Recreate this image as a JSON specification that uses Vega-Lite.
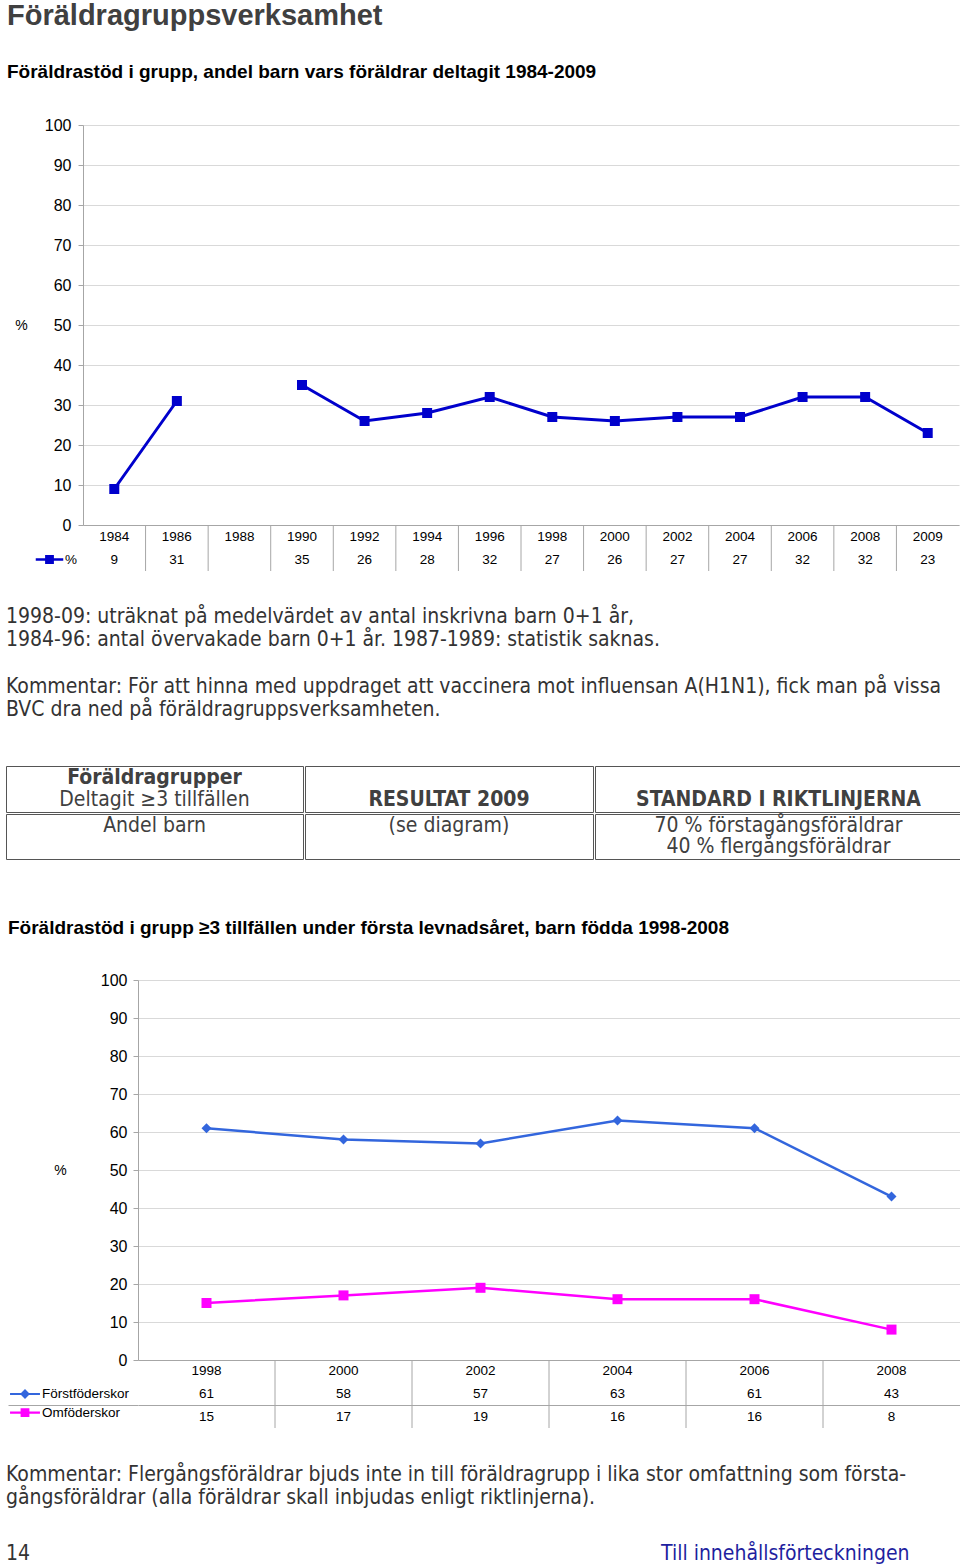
{
  "$schema": "https://vega.github.io/schema/vega-lite/v6.json",
  "background": "white",
  "padding": {"left": 5, "top": 2, "right": 0, "bottom": 0},
  "config": {
    "view": {"stroke": null},
    "font": "Liberation Sans",
    "axis": {"labelFont": "Liberation Sans", "titleFont": "Liberation Sans"},
    "title": {"offset": 0}
  },
  "datasets": {
    "t1": [
      {"year": "1984", "v": 9}, {"year": "1986", "v": 31}, {"year": "1988", "v": null},
      {"year": "1990", "v": 35}, {"year": "1992", "v": 26}, {"year": "1994", "v": 28},
      {"year": "1996", "v": 32}, {"year": "1998", "v": 27}, {"year": "2000", "v": 26},
      {"year": "2002", "v": 27}, {"year": "2004", "v": 27}, {"year": "2006", "v": 32},
      {"year": "2008", "v": 32}, {"year": "2009", "v": 23}
    ],
    "t2": [
      {"year": "1998", "series": "Förstföderskor", "v": 61},
      {"year": "2000", "series": "Förstföderskor", "v": 58},
      {"year": "2002", "series": "Förstföderskor", "v": 57},
      {"year": "2004", "series": "Förstföderskor", "v": 63},
      {"year": "2006", "series": "Förstföderskor", "v": 61},
      {"year": "2008", "series": "Förstföderskor", "v": 43},
      {"year": "1998", "series": "Omföderskor", "v": 15},
      {"year": "2000", "series": "Omföderskor", "v": 17},
      {"year": "2002", "series": "Omföderskor", "v": 19},
      {"year": "2004", "series": "Omföderskor", "v": 16},
      {"year": "2006", "series": "Omföderskor", "v": 16},
      {"year": "2008", "series": "Omföderskor", "v": 8}
    ]
  },
  "concat": [
    {
      "hconcat": [
        {"width": 1, "height": 1, "data": {"values": []}, "mark": "text", "encoding": {}},
        {
          "concat": [
            {
              "width": 876, "height": 400,
              "data": {"name": "t1"},
              "title": {
                "text": "Föräldragruppsverksamhet",
                "subtitle": "Föräldrastöd i grupp, andel barn vars föräldrar deltagit 1984-2009",
                "anchor": "start", "frame": "group", "dx": -76, "offset": 35,
                "font": "Liberation Sans", "fontSize": 29, "fontWeight": "bold", "color": "#404040",
                "subtitleFont": "Liberation Sans", "subtitleFontSize": 19, "subtitleFontWeight": "bold",
                "subtitleColor": "#000000", "subtitlePadding": 32
              },
              "encoding": {
                "x": {
                  "field": "year", "type": "ordinal",
                  "scale": {"type": "point", "padding": 0.5, "domain": ["1984","1986","1988","1990","1992","1994","1996","1998","2000","2002","2004","2006","2008","2009"]},
                  "axis": {"labels": false, "ticks": false, "grid": false, "title": null, "domainColor": "#a6a6a6"}
                },
                "y": {
                  "field": "v", "type": "quantitative",
                  "scale": {"domain": [0, 100]},
                  "axis": {
                    "tickCount": 10, "grid": true, "gridColor": "#d9d9d9", "domainColor": "#a6a6a6",
                    "tickColor": "#a6a6a6", "tickSize": 5, "labelPadding": 7, "labelFontSize": 16,
                    "labelColor": "#000000", "title": "%", "titleAngle": 0, "titleX": -62, "titleY": 200,
                    "titleFontSize": 14, "titleFontWeight": "normal", "titleColor": "#000000",
                    "titleAlign": "center", "titleBaseline": "middle"
                  }
                }
              },
              "layer": [
                {"mark": {"type": "line", "color": "#0000cc", "strokeWidth": 3, "invalid": "break-paths-filter-domains"}},
                {"mark": {"type": "square", "color": "#0000cc", "size": 100, "filled": true, "opacity": 1}}
              ]
            },
            {
              "width": 876, "height": 46,
              "data": {"name": "t1"},
              "layer": [
                {
                  "transform": [{"filter": "datum.year != '1984'"}],
                  "mark": {"type": "rule", "color": "#a6a6a6", "strokeWidth": 1},
                  "encoding": {
                    "x": {"field": "year", "type": "ordinal", "bandPosition": 0,
                      "scale": {"type": "band", "paddingInner": 0, "paddingOuter": 0, "domain": ["1984","1986","1988","1990","1992","1994","1996","1998","2000","2002","2004","2006","2008","2009"]},
                      "axis": null}
                  }
                },
                {
                  "mark": {"type": "text", "font": "Liberation Sans", "fontSize": 13.5, "color": "#000000"},
                  "encoding": {
                    "x": {"field": "year", "type": "ordinal", "bandPosition": 0.5},
                    "y": {"datum": "Year", "type": "nominal", "scale": {"type": "point", "padding": 0.5, "domain": ["Year", "Value"]}, "axis": null},
                    "text": {"field": "year"}
                  }
                },
                {
                  "transform": [{"filter": "isValid(datum.v)"}],
                  "mark": {"type": "text", "font": "Liberation Sans", "fontSize": 13.5, "color": "#000000"},
                  "encoding": {
                    "x": {"field": "year", "type": "ordinal", "bandPosition": 0.5},
                    "y": {"datum": "Value", "type": "nominal"},
                    "text": {"field": "v", "type": "quantitative"}
                  }
                },
                {
                  "data": {"values": [{"s": "%"}]},
                  "mark": {"type": "point", "opacity": 0, "filled": true},
                  "encoding": {
                    "color": {
                      "field": "s", "type": "nominal",
                      "scale": {"domain": ["%"], "range": ["#0000cc"]},
                      "legend": {
                        "title": null, "orient": "none", "legendX": -44.5, "legendY": 23.5,
                        "symbolType": "M-1.25,-0.11H1.25V0.11H-1.25Z M-0.4,-0.4H0.4V0.4H-0.4Z",
                        "symbolSize": 484, "symbolOpacity": 1, "symbolStrokeWidth": 0,
                        "labelFont": "Liberation Sans", "labelFontSize": 13.5, "labelColor": "#000000",
                        "labelOffset": 4.5, "rowPadding": 0, "padding": 0
                      }
                    }
                  }
                }
              ]
            }
          ],
          "columns": 1,
          "spacing": 0,
          "bounds": "flush",
          "resolve": {"scale": {"color": "independent", "x": "independent", "y": "independent"}, "legend": {"color": "independent"}}
        }
      ],
      "spacing": 0
    },
    {
      "width": 953, "height": 193,
      "data": {"values": [
        {"line": 1, "t": "1998-09: uträknat på medelvärdet av antal inskrivna barn 0+1 år,"},
        {"line": 2, "t": "1984-96: antal övervakade barn 0+1 år. 1987-1989: statistik saknas."},
        {"line": 4, "t": "Kommentar: För att hinna med uppdraget att vaccinera mot influensan A(H1N1), fick man på vissa"},
        {"line": 5, "t": "BVC dra ned på föräldragruppsverksamheten."}
      ]},
      "mark": {"type": "text", "align": "left", "baseline": "middle", "font": "DejaVu Sans Condensed", "fontSize": 21, "color": "#333333"},
      "encoding": {
        "x": {"datum": 0, "type": "quantitative", "scale": {"domain": [0, 1]}, "axis": null},
        "y": {"field": "line", "type": "quantitative", "scale": {"domain": [-0.931, 7.352], "reverse": true, "nice": false, "zero": false}, "axis": null},
        "text": {"field": "t"}
      }
    },
    {
      "concat": [
        {
          "width": 297, "height": 46,
          "view": {"stroke": "#555555", "strokeWidth": 1},
          "layer": [
            {
              "data": {"values": [{"slot": "1", "t": "Föräldragrupper"}]},
              "mark": {"type": "text", "font": "DejaVu Sans Condensed", "fontSize": 21, "fontWeight": "bold", "color": "#404040"},
              "encoding": {"text": {"field": "t"}, "y": {"field": "slot", "type": "ordinal", "scale": {"type": "point", "domain": ["1","2"], "padding": 0.55}, "axis": null}}
            },
            {
              "data": {"values": [{"slot": "2", "t": "Deltagit ≥3 tillfällen"}]},
              "mark": {"type": "text", "font": "DejaVu Sans Condensed", "fontSize": 21, "color": "#404040"},
              "encoding": {"text": {"field": "t"}, "y": {"field": "slot", "type": "ordinal"}}
            }
          ]
        },
        {
          "width": 288, "height": 46,
          "view": {"stroke": "#555555", "strokeWidth": 1},
          "data": {"values": [{"slot": "2", "t": "RESULTAT 2009"}]},
          "mark": {"type": "text", "font": "DejaVu Sans Condensed", "fontSize": 21, "fontWeight": "bold", "color": "#404040"},
          "encoding": {"text": {"field": "t"}, "y": {"field": "slot", "type": "ordinal", "scale": {"type": "point", "domain": ["1","2"], "padding": 0.55}, "axis": null}}
        },
        {
          "width": 367, "height": 46,
          "view": {"stroke": "#555555", "strokeWidth": 1},
          "data": {"values": [{"slot": "2", "t": "STANDARD I RIKTLINJERNA"}]},
          "mark": {"type": "text", "font": "DejaVu Sans Condensed", "fontSize": 21, "fontWeight": "bold", "color": "#404040"},
          "encoding": {"text": {"field": "t"}, "y": {"field": "slot", "type": "ordinal", "scale": {"type": "point", "domain": ["1","2"], "padding": 0.55}, "axis": null}}
        },
        {
          "width": 297, "height": 45,
          "view": {"stroke": "#555555", "strokeWidth": 1},
          "data": {"values": [{"slot": "1", "t": "Andel barn"}]},
          "mark": {"type": "text", "font": "DejaVu Sans Condensed", "fontSize": 21, "color": "#404040"},
          "encoding": {"text": {"field": "t"}, "y": {"field": "slot", "type": "ordinal", "scale": {"type": "point", "domain": ["1","2"], "padding": 0.55}, "axis": null}}
        },
        {
          "width": 288, "height": 45,
          "view": {"stroke": "#555555", "strokeWidth": 1},
          "data": {"values": [{"slot": "1", "t": "(se diagram)"}]},
          "mark": {"type": "text", "font": "DejaVu Sans Condensed", "fontSize": 21, "color": "#404040"},
          "encoding": {"text": {"field": "t"}, "y": {"field": "slot", "type": "ordinal", "scale": {"type": "point", "domain": ["1","2"], "padding": 0.55}, "axis": null}}
        },
        {
          "width": 367, "height": 45,
          "view": {"stroke": "#555555", "strokeWidth": 1},
          "data": {"values": [{"slot": "1", "t": "70 % förstagångsföräldrar"}, {"slot": "2", "t": "40 % flergångsföräldrar"}]},
          "mark": {"type": "text", "font": "DejaVu Sans Condensed", "fontSize": 21, "color": "#404040"},
          "encoding": {"text": {"field": "t"}, "y": {"field": "slot", "type": "ordinal", "scale": {"type": "point", "domain": ["1","2"], "padding": 0.55}, "axis": null}}
        }
      ],
      "columns": 3,
      "spacing": 0
    },
    {"width": 1, "height": 58.5, "data": {"values": []}, "mark": "text", "encoding": {}},
    {
      "hconcat": [
        {"width": 1, "height": 1, "data": {"values": []}, "mark": "text", "encoding": {}},
        {
          "concat": [
            {
              "width": 822, "height": 380,
              "data": {"name": "t2"},
              "title": {
                "text": "Föräldrastöd i grupp ≥3 tillfällen under första levnadsåret, barn födda 1998-2008",
                "anchor": "start", "frame": "group", "dx": -130, "offset": 34,
                "font": "Liberation Sans", "fontSize": 19, "fontWeight": "bold", "color": "#000000"
              },
              "encoding": {
                "x": {
                  "field": "year", "type": "ordinal",
                  "scale": {"type": "point", "padding": 0.5, "domain": ["1998","2000","2002","2004","2006","2008"]},
                  "axis": {"labels": false, "ticks": false, "grid": false, "title": null, "domainColor": "#a6a6a6"}
                },
                "y": {
                  "field": "v", "type": "quantitative",
                  "scale": {"domain": [0, 100]},
                  "axis": {
                    "tickCount": 10, "grid": true, "gridColor": "#d9d9d9", "domainColor": "#a6a6a6",
                    "tickColor": "#a6a6a6", "tickSize": 5, "labelPadding": 6, "labelFontSize": 16,
                    "labelColor": "#000000", "title": "%", "titleAngle": 0, "titleX": -78, "titleY": 190,
                    "titleFontSize": 14, "titleFontWeight": "normal", "titleColor": "#000000",
                    "titleAlign": "center", "titleBaseline": "middle"
                  }
                },
                "color": {
                  "field": "series", "type": "nominal",
                  "scale": {"domain": ["Förstföderskor", "Omföderskor"], "range": ["#3366dd", "#ff00ff"]},
                  "legend": null
                }
              },
              "layer": [
                {"mark": {"type": "line", "strokeWidth": 2.5}},
                {
                  "mark": {"type": "point", "filled": true, "opacity": 1, "size": 100},
                  "encoding": {
                    "shape": {"field": "series", "type": "nominal", "scale": {"domain": ["Förstföderskor", "Omföderskor"], "range": ["diamond", "square"]}, "legend": null}
                  }
                }
              ]
            },
            {
              "width": 822, "height": 68,
              "data": {"name": "t2"},
              "layer": [
                {
                  "transform": [{"filter": "datum.year != '1998' && datum.series == 'Förstföderskor'"}],
                  "mark": {"type": "rule", "color": "#a6a6a6", "strokeWidth": 1},
                  "encoding": {
                    "x": {"field": "year", "type": "ordinal", "bandPosition": 0,
                      "scale": {"type": "band", "paddingInner": 0, "paddingOuter": 0, "domain": ["1998","2000","2002","2004","2006","2008"]},
                      "axis": null}
                  }
                },
                {
                  "transform": [{"filter": "datum.series == 'Förstföderskor'"}],
                  "mark": {"type": "text", "font": "Liberation Sans", "fontSize": 13.5, "color": "#000000"},
                  "encoding": {
                    "x": {"field": "year", "type": "ordinal", "bandPosition": 0.5},
                    "y": {
                      "datum": "Year", "type": "nominal", "bandPosition": 0.5,
                      "scale": {"type": "band", "paddingInner": 0, "paddingOuter": 0, "domain": ["Year", "Förstföderskor", "Omföderskor"]},
                      "axis": {
                        "orient": "left", "values": ["Omföderskor"], "bandPosition": 0, "labels": false,
                        "domain": false, "ticks": true, "tickSize": 130, "tickColor": "#a6a6a6",
                        "grid": true, "gridColor": "#a6a6a6", "title": null
                      }
                    },
                    "text": {"field": "year"}
                  }
                },
                {
                  "mark": {"type": "text", "font": "Liberation Sans", "fontSize": 13.5, "color": "#000000"},
                  "encoding": {
                    "x": {"field": "year", "type": "ordinal", "bandPosition": 0.5},
                    "y": {"field": "series", "type": "nominal", "bandPosition": 0.5},
                    "text": {"field": "v", "type": "quantitative"}
                  }
                },
                {
                  "mark": {"type": "point", "opacity": 0, "filled": true},
                  "encoding": {
                    "color": {
                      "field": "series", "type": "nominal",
                      "scale": {"domain": ["Förstföderskor", "Omföderskor"], "range": ["#3366dd", "#ff00ff"]},
                      "legend": {
                        "title": null, "orient": "none", "legendX": -124, "legendY": 23,
                        "symbolSize": 484, "symbolOpacity": 1, "symbolStrokeWidth": 0,
                        "labelFont": "Liberation Sans", "labelFontSize": 13.5, "labelColor": "#000000",
                        "labelOffset": 6, "rowPadding": 0.7, "padding": 0
                      }
                    },
                    "shape": {
                      "field": "series", "type": "nominal",
                      "scale": {"domain": ["Förstföderskor", "Omföderskor"], "range": [
                        "M-1.36,-0.1H1.36V0.1H-1.36Z M0,-0.45L0.45,0L0,0.45L-0.45,0Z",
                        "M-1.36,-0.1H1.36V0.1H-1.36Z M-0.4,-0.4H0.4V0.4H-0.4Z"
                      ]},
                      "legend": {
                        "title": null, "orient": "none", "legendX": -124, "legendY": 23,
                        "symbolSize": 484, "symbolOpacity": 1, "symbolStrokeWidth": 0,
                        "labelFont": "Liberation Sans", "labelFontSize": 13.5, "labelColor": "#000000",
                        "labelOffset": 6, "rowPadding": 0.7, "padding": 0
                      }
                    }
                  }
                }
              ]
            }
          ],
          "columns": 1,
          "spacing": 0,
          "bounds": "flush",
          "resolve": {"scale": {"color": "independent", "shape": "independent", "x": "independent", "y": "independent"}, "legend": {"color": "independent", "shape": "independent"}}
        }
      ],
      "spacing": 0
    },
    {
      "width": 953, "height": 111.5,
      "data": {"values": [
        {"line": 1, "t": "Kommentar: Flergångsföräldrar bjuds inte in till föräldragrupp i lika stor omfattning som första-"},
        {"line": 2, "t": "gångsföräldrar (alla föräldrar skall inbjudas enligt riktlinjerna)."}
      ]},
      "mark": {"type": "text", "align": "left", "baseline": "middle", "font": "DejaVu Sans Condensed", "fontSize": 21, "color": "#333333"},
      "encoding": {
        "x": {"datum": 0, "type": "quantitative", "scale": {"domain": [0, 1]}, "axis": null},
        "y": {"field": "line", "type": "quantitative", "scale": {"domain": [-0.953, 3.832], "reverse": true, "nice": false, "zero": false}, "axis": null},
        "text": {"field": "t"}
      }
    },
    {
      "concat": [
        {
          "width": 655, "height": 25,
          "data": {"values": [{"t": "14"}]},
          "mark": {"type": "text", "align": "left", "baseline": "middle", "font": "DejaVu Sans Condensed", "fontSize": 21, "color": "#333333"},
          "encoding": {
            "x": {"datum": 0, "type": "quantitative", "scale": {"domain": [0, 1]}, "axis": null},
            "text": {"field": "t"}
          }
        },
        {
          "width": 298, "height": 25,
          "data": {"values": [{"t": "Till innehållsförteckningen"}]},
          "mark": {"type": "text", "align": "left", "baseline": "middle", "font": "DejaVu Sans Condensed", "fontSize": 21, "color": "#1f1fa0"},
          "encoding": {
            "x": {"datum": 0, "type": "quantitative", "scale": {"domain": [0, 1]}, "axis": null},
            "text": {"field": "t"}
          }
        }
      ],
      "columns": 2,
      "spacing": 0
    }
  ],
  "columns": 1,
  "spacing": 0,
  "bounds": "full",
  "resolve": {"scale": {"color": "independent", "shape": "independent"}, "legend": {"color": "independent", "shape": "independent"}}
}
